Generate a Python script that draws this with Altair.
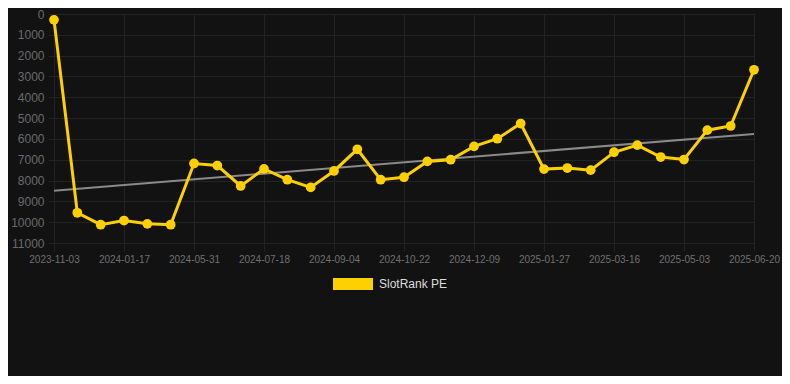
import altair as alt
import pandas as pd

dates = [
    "2023-11-03", "2023-11-28", "2023-12-23", "2024-01-17", "2024-03-02", "2024-04-16",
    "2024-05-31", "2024-06-16", "2024-07-02", "2024-07-18", "2024-08-03", "2024-08-19",
    "2024-09-04", "2024-09-20", "2024-10-06", "2024-10-22", "2024-11-07", "2024-11-23",
    "2024-12-09", "2024-12-25", "2025-01-11", "2025-01-27", "2025-02-12", "2025-02-28",
    "2025-03-16", "2025-04-01", "2025-04-17", "2025-05-03", "2025-05-19", "2025-06-04",
    "2025-06-20",
]
ranks = [280, 9550, 10120, 9920, 10080, 10120, 7180, 7280, 8260, 7440, 7960, 8330,
         7540, 6500, 7960, 7840, 7080, 7000, 6360, 5990, 5260, 7450, 7400, 7500,
         6640, 6300, 6870, 6990, 5580, 5380, 2680]
series_name = "SlotRank PE"
y_ticks = list(range(0, 11001, 1000))
x_ticks = list(range(0, len(dates), 3))

df = pd.DataFrame({"idx": list(range(len(dates))), "date": dates, "rank": ranks,
                   "series": series_name})

FONT = "Liberation Sans"
YELLOW = "#FFD000"
GRID = "#232323"

label_expr = "[" + ",".join(f"'{d}'" for d in dates) + "][datum.value]"

x_enc = alt.X(
    "idx:Q",
    scale=alt.Scale(domain=[0, len(dates) - 1], nice=False, zero=False),
    axis=alt.Axis(values=x_ticks, labelExpr=label_expr, title=None, grid=True,
                  gridColor=GRID, domain=False, tickColor=GRID, tickSize=8,
                  labelPadding=3, labelColor="#707070", labelFontSize=10,
                  labelFont=FONT, labelAngle=0, labelOverlap=False,
                  labelFlush=False),
)
y_enc = alt.Y(
    "rank:Q",
    scale=alt.Scale(domain=[0, 11000], reverse=True, nice=False, zero=False),
    axis=alt.Axis(values=y_ticks, title=None, grid=True, gridColor=GRID,
                  domain=False, tickColor=GRID, tickSize=6, labelPadding=4,
                  labelColor="#6a6a6a", labelFontSize=12, labelFont=FONT,
                  format="d", labelOverlap=False, labelFlush=False),
)

base = alt.Chart(df)

trend = base.transform_regression(
    "idx", "rank", method="linear", extent=[0, len(dates) - 1]
).mark_line(color="#8a8a8a", strokeWidth=2).encode(x=x_enc, y=y_enc)

line = base.mark_line(color=YELLOW, strokeWidth=3).encode(x=x_enc, y=y_enc)

points = base.mark_circle(size=95, opacity=1).encode(
    x=x_enc,
    y=y_enc,
    color=alt.Color(
        "series:N",
        scale=alt.Scale(domain=[series_name], range=[YELLOW]),
        legend=alt.Legend(
            title=None, orient="none", legendX=279, legendY=250,
            symbolType="M-1,-0.3H1V0.3H-1Z", symbolSize=1600,
            symbolFillColor=YELLOW, symbolStrokeWidth=0, symbolOpacity=1,
            labelColor="#dddddd", labelFontSize=12, labelFont=FONT,
            labelOffset=6, padding=0,
        ),
    ),
)

chart = alt.layer(trend, line, points).properties(
    width=700,
    height=229,
    background="#121212",
    padding={"left": 46, "top": 6, "right": 28, "bottom": 133},
    autosize=alt.AutoSizeParams(type="none"),
).configure_view(stroke=None)

chart.save("out.html", embed_options={"renderer": "svg", "actions": False})
